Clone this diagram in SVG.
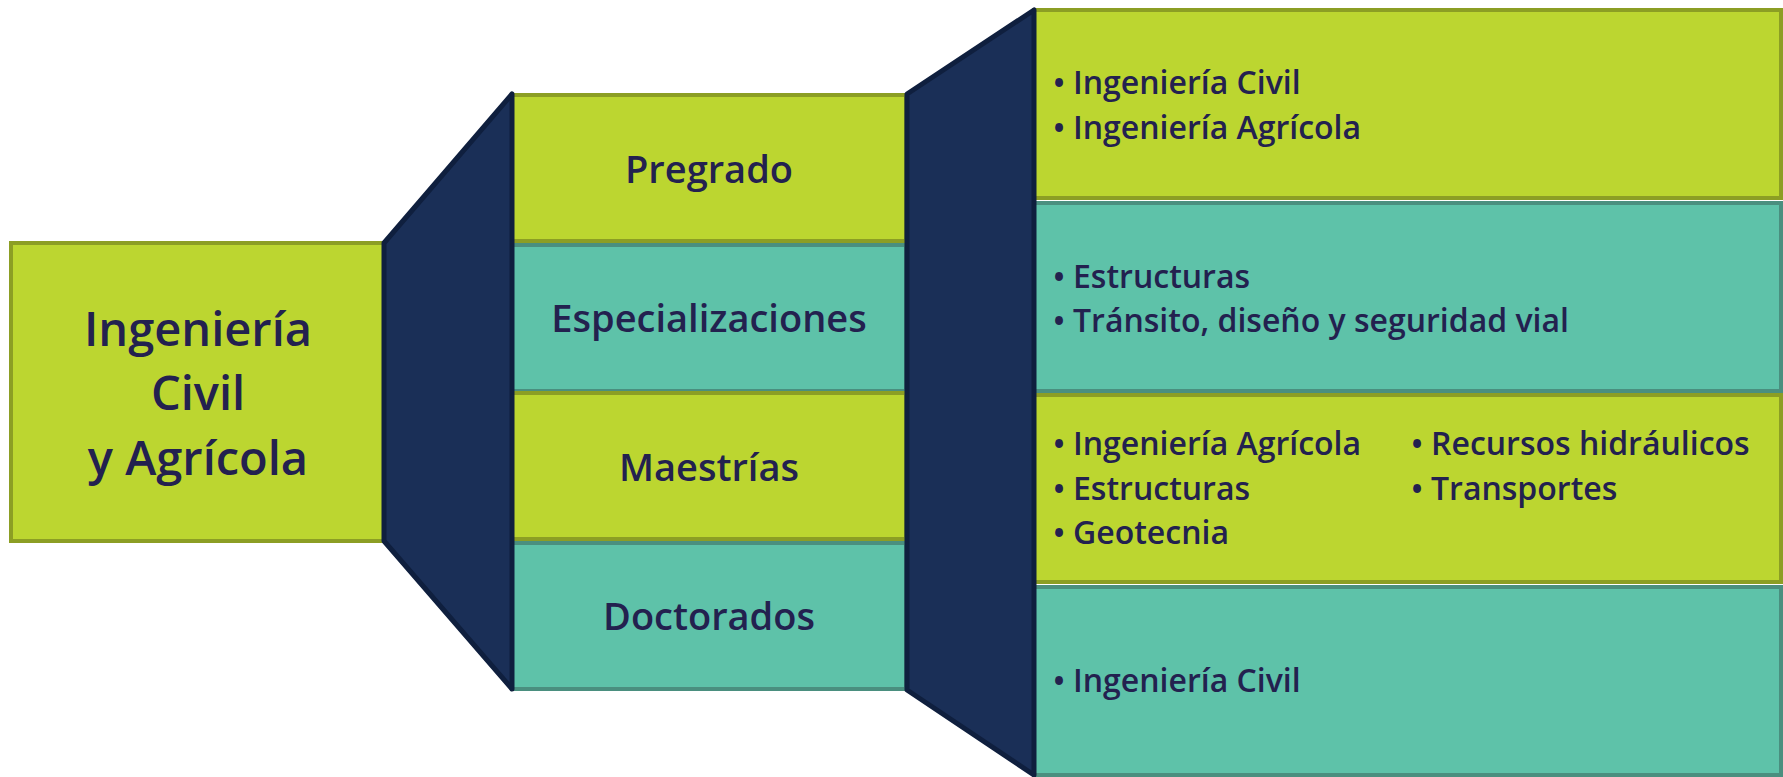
<svg xmlns="http://www.w3.org/2000/svg" width="1783" height="777" viewBox="0 0 1783 777">
<style>
.g{fill:#BCD630;stroke:#8C9E24;stroke-width:4}
.t{fill:#5EC2A9;stroke:#4A8F7F;stroke-width:4}
.nv{fill:#1A2F57;stroke:#0F1F3E;stroke-width:5;stroke-linejoin:round}
text{font-family:"Open Sans","Noto Sans","Liberation Sans",sans-serif;font-weight:600;fill:#23214F}
.big{font-size:47px;text-anchor:middle}
.mid{font-size:38px;text-anchor:middle}
.it{font-size:32px}
</style>
<rect width="1783" height="777" fill="#FFFFFF"/>
<g id="root">
<rect class="g" x="11" y="243" width="373" height="298"/>
<text class="big" x="198" y="346">Ingeniería</text>
<text class="big" x="198" y="410">Civil</text>
<text class="big" x="198" y="475">y Agrícola</text>
</g>
<g id="pregrado">
<rect class="g" x="512" y="95" width="394" height="146"/>
<text class="mid" x="709" y="183">Pregrado</text>
</g>
<g id="especializaciones">
<rect class="t" x="512" y="245" width="394" height="146"/>
<text class="mid" x="709" y="332">Especializaciones</text>
</g>
<g id="maestrias">
<rect class="g" x="512" y="393" width="394" height="146"/>
<text class="mid" x="709" y="481">Maestrías</text>
</g>
<g id="doctorados">
<rect class="t" x="512" y="543" width="394" height="146"/>
<text class="mid" x="709" y="630">Doctorados</text>
</g>
<g id="pregrado-detalle">
<rect class="g" x="1034" y="10" width="747" height="188"/>
<text class="it" y="94"><tspan x="1053">•</tspan><tspan x="1073">Ingeniería Civil</tspan></text>
<text class="it" y="139"><tspan x="1053">•</tspan><tspan x="1073">Ingeniería Agrícola</tspan></text>
</g>
<g id="especializaciones-detalle">
<rect class="t" x="1034" y="203" width="747" height="188"/>
<text class="it" y="288"><tspan x="1053">•</tspan><tspan x="1073">Estructuras</tspan></text>
<text class="it" y="332"><tspan x="1053">•</tspan><tspan x="1073">Tránsito, diseño y seguridad vial</tspan></text>
</g>
<g id="maestrias-detalle">
<rect class="g" x="1034" y="395" width="747" height="187"/>
<text class="it" y="455"><tspan x="1053">•</tspan><tspan x="1073">Ingeniería Agrícola</tspan></text>
<text class="it" y="500"><tspan x="1053">•</tspan><tspan x="1073">Estructuras</tspan></text>
<text class="it" y="544"><tspan x="1053">•</tspan><tspan x="1073">Geotecnia</tspan></text>
<text class="it" y="455"><tspan x="1411">•</tspan><tspan x="1431">Recursos hidráulicos</tspan></text>
<text class="it" y="500"><tspan x="1411">•</tspan><tspan x="1431">Transportes</tspan></text>
</g>
<g id="doctorados-detalle">
<rect class="t" x="1034" y="587" width="747" height="188"/>
<text class="it" y="692"><tspan x="1053">•</tspan><tspan x="1073">Ingeniería Civil</tspan></text>
</g>
<g id="connectors">
<polygon class="nv" points="384,243 512,94 512,689 384,541"/>
<polygon class="nv" points="907,94 1034,10 1034,775 907,690"/>
</g>
</svg>
